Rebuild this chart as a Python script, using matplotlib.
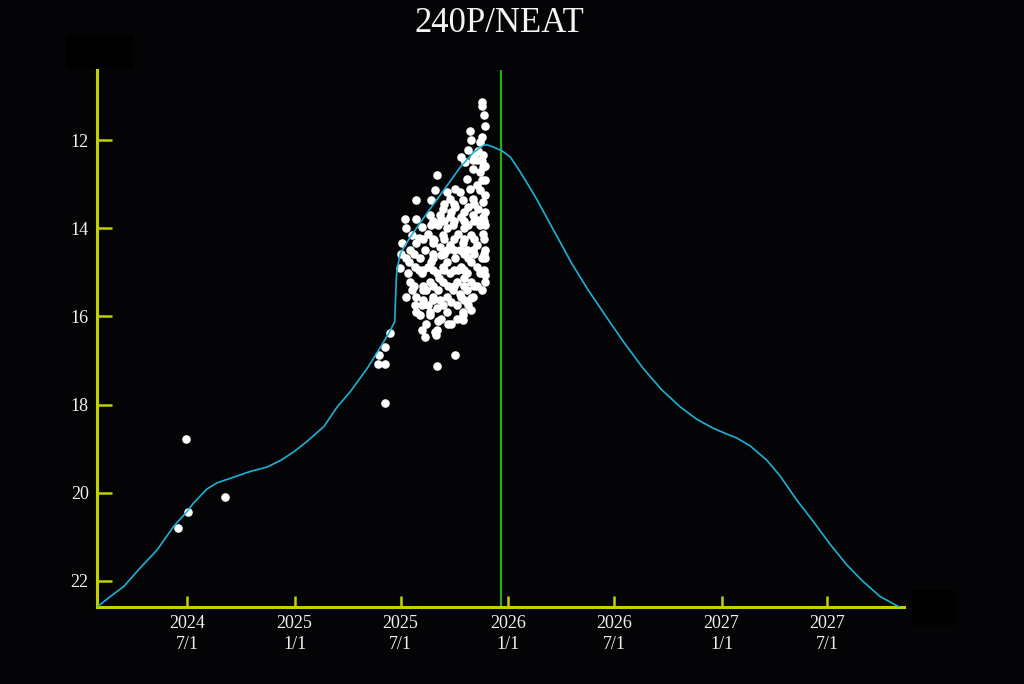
import matplotlib
matplotlib.use("Agg")
import matplotlib.pyplot as plt
from matplotlib.patches import Rectangle
import pandas as pd

# ---------------- data ----------------
title = "240P/NEAT"

curve_dates = ['2024-01-30','2024-02-21','2024-03-15','2024-04-12','2024-05-11','2024-06-08','2024-07-01',
               '2024-07-12','2024-08-04','2024-08-21','2024-09-19','2024-10-17','2024-11-15','2024-12-08',
               '2024-12-31','2025-01-22','2025-02-20','2025-03-15','2025-04-06','2025-05-05','2025-05-28',
               '2025-06-11','2025-06-21','2025-06-22','2025-06-24','2025-06-26','2025-07-01','2025-07-18',
               '2025-08-15','2025-09-13','2025-10-11','2025-11-03','2025-11-20','2025-11-26','2025-12-07',
               '2025-12-22','2026-01-05','2026-01-22','2026-02-17','2026-03-17','2026-04-20','2026-05-18',
               '2026-06-16','2026-07-17','2026-08-20','2026-09-21','2026-10-22','2026-11-19','2026-12-18',
               '2027-01-10','2027-01-27','2027-02-19','2027-03-19','2027-04-11','2027-05-09','2027-06-07',
               '2027-07-06','2027-08-03','2027-08-31','2027-09-29','2027-11-02']
curve_mags = [22.59,22.36,22.13,21.71,21.30,20.77,20.43,
              20.24,19.92,19.78,19.65,19.52,19.42,19.27,
              19.07,18.84,18.50,18.05,17.71,17.18,16.69,
              16.38,16.12,15.78,15.10,14.86,14.56,14.19,
              13.66,13.13,12.61,12.27,12.11,12.10,12.15,
              12.24,12.38,12.72,13.29,13.97,14.80,15.40,
              15.97,16.57,17.18,17.67,18.05,18.33,18.54,
              18.67,18.76,18.94,19.26,19.62,20.16,20.66,
              21.18,21.64,22.02,22.36,22.61]

# observations: days relative to 2025-07-01, magnitudes
obs_epoch = '2025-07-01'
obs_days_early = [-367,-381,-364,-300,-18,-27,-37,-38,-26,-27,-1,0]
obs_mags_early = [18.78,20.81,20.44,20.10,16.38,16.69,16.88,17.09,17.09,17.97,14.89,14.57]

obs_days_top = [139,140,142,144,119,140,121,136,116,133,104,125,141,124,139,110]
obs_mags_top = [11.13,11.21,11.43,11.68,11.79,11.93,11.98,12.04,12.21,12.23,12.38,12.34,12.34,12.45,12.47,12.49]

obs_days_upper = [62,124,136,141,113,139,93,59,119,136,27,53,84,107,124,141,73,93,116,133,
                  7,27,50,84,104,124,141,36,64,90,116,136,19,47,73,99,121,141]
obs_mags_upper = [12.79,12.64,12.72,12.61,12.87,12.91,13.10,13.13,13.10,13.13,13.36,13.36,13.32,13.36,13.32,13.40,13.55,13.51,13.51,13.55,
                  13.78,13.78,13.70,13.74,13.74,13.70,13.74,13.97,13.93,13.93,13.93,13.93,14.15,14.12,14.15,14.12,14.15,14.12]

obs_days_mid = [2,27,56,107,84,130,67,
                16,42,79,101,124,144,
                10,33,56,93,116,139,
                24,47,73,104,130,
                13,36,62,84,113,136,
                16,50,73,96,121,144,
                19,39,64,90,113,140,
                10,27,56,79,104,124,
                24,47,73,96,116,
                27,50,79,107]
obs_mags_mid = [14.34,14.34,14.34,14.34,14.38,14.38,14.42,
                14.49,14.49,14.49,14.49,14.49,14.49,
                14.68,14.68,14.68,14.68,14.68,14.68,
                14.87,14.87,14.87,14.87,14.87,
                15.02,15.02,15.02,15.02,15.02,15.02,
                15.21,15.21,15.21,15.21,15.21,15.21,
                15.40,15.40,15.40,15.40,15.40,15.40,
                15.55,15.55,15.55,15.55,15.55,15.55,
                15.74,15.74,15.74,15.74,15.74,
                15.89,15.89,15.89,15.89]

obs_days_low = [43,42,60,59,63,93,33,50,64,82,87,107,107,36,62,70,96]
obs_mags_low = [16.16,16.46,16.42,16.35,17.12,16.88,15.97,15.97,16.10,16.16,16.18,16.08,15.97,16.30,16.30,16.05,16.05]

obs_days_extra = [53,79,99,121,65,108,130,82,101,67,87,121,44,32,91,70,113,145,145,121,63,36,15,
                  130,101,79,109,87,67,130,145,145,145,145,145,130,70,53,79,108,10,32,58]
obs_mags_extra = [14.77,14.77,14.95,14.77,15.13,15.13,15.31,15.31,15.49,15.63,15.67,15.58,15.40,14.95,14.49,14.61,14.49,14.68,15.06,15.85,15.81,15.74,14.77,
                  13.02,13.18,13.18,13.63,13.63,13.70,13.81,13.63,13.93,13.25,12.91,12.57,12.45,13.81,13.93,14.00,14.00,14.00,14.22,14.27]

obs_days_fill = [74,91,125,
                 56,74,91,108,125,142,
                 39,56,74,91,108,125,142,
                 23,56,74,108,125,142,
                 39,56,74,91,108,142,
                 23,39,56,91,108,125,
                 39,56,108]
obs_mags_fill = [13.45,13.45,13.45,
                 13.84,13.84,13.84,13.84,13.84,13.84,
                 14.24,14.24,14.24,14.24,14.24,14.24,14.24,
                 14.59,14.59,14.59,14.59,14.59,14.59,
                 14.95,14.95,14.95,14.95,14.95,14.95,
                 15.31,15.31,15.31,15.31,15.31,15.31,
                 15.63,15.63,15.63]

now_date = '2025-12-20'
tick_dates = ['2024-07-01','2025-01-01','2025-07-01','2026-01-01','2026-07-01','2027-01-01','2027-07-01']
tick_labels = ['2024\n7/1','2025\n1/1','2025\n7/1','2026\n1/1','2026\n7/1','2027\n1/1','2027\n7/1']
y_ticks = [12, 14, 16, 18, 20, 22]
x_range = ['2024-01-29', '2027-11-09']
y_range = [22.6, 10.4]

# ---------------- styling ----------------
BG = '#040406'
AXC = '#c3d000'
CYAN = '#1cb2d6'
GREEN = '#2ca81c'
plt.rcParams['font.family'] = ['Liberation Serif', 'DejaVu Serif']

fig = plt.figure(figsize=(10.24, 6.84), dpi=100, facecolor=BG)
fig.patches.append(Rectangle((66/1024, 1-68/684), 66/1024, 32/684, transform=fig.transFigure,
                             facecolor='#000000', edgecolor='none'))
fig.patches.append(Rectangle((912/1024, 1-625/684), 44/1024, 35/684, transform=fig.transFigure,
                             facecolor='#000000', edgecolor='none'))

ax = fig.add_axes([97/1024, 77/684, 807/1024, 537/684])
ax.set_facecolor('none')

epoch = pd.Timestamp(obs_epoch)
obs_days = obs_days_early + obs_days_top + obs_days_upper + obs_days_mid + obs_days_low + obs_days_extra + obs_days_fill
obs_mags = obs_mags_early + obs_mags_top + obs_mags_upper + obs_mags_mid + obs_mags_low + obs_mags_extra + obs_mags_fill
obs_x = [epoch + pd.Timedelta(days=d) for d in obs_days]

ax.axvline(pd.Timestamp(now_date), color=GREEN, lw=1.6, zorder=1)
ax.scatter(obs_x, obs_mags, s=38, color='white', linewidths=0, zorder=2)
ax.plot(pd.to_datetime(curve_dates), curve_mags, color=CYAN, lw=1.2, zorder=3)

ax.set_xlim(pd.Timestamp(x_range[0]), pd.Timestamp(x_range[1]))
ax.set_ylim(*y_range)

ax.set_xticks(pd.to_datetime(tick_dates))
ax.set_xticklabels(tick_labels, linespacing=1.25)
ax.set_yticks(y_ticks)
ax.set_yticklabels([str(v) for v in y_ticks])

for s in ['top', 'right']:
    ax.spines[s].set_visible(False)
for s in ['left', 'bottom']:
    ax.spines[s].set_color(AXC)
    ax.spines[s].set_linewidth(2.2)

ax.tick_params(axis='y', direction='in', length=11, width=1.8, color=AXC,
               labelcolor='#f0f0f0', labelsize=13, pad=6)
ax.tick_params(axis='x', direction='in', length=8, width=1.8, color=AXC,
               labelcolor='#f0f0f0', labelsize=13, pad=6)

fig.text(0.488, 1 - 24/684, title, color='#f4f4f4', fontsize=25, ha='center', va='center')

fig.savefig('out.png', dpi=100, facecolor=BG)
